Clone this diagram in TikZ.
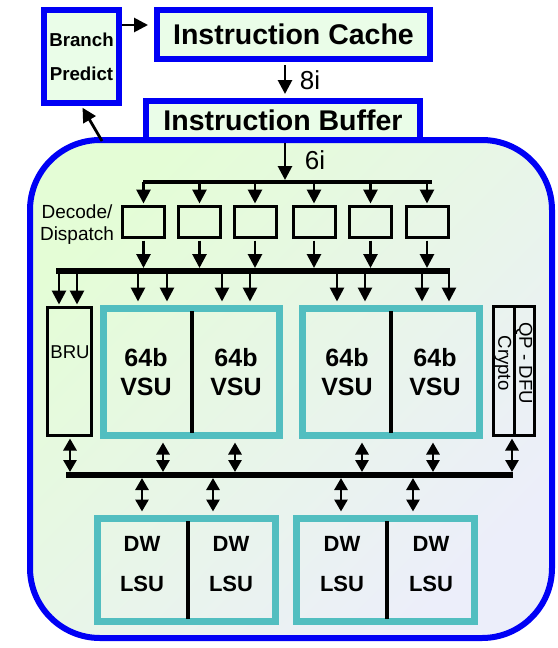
\documentclass[tikz,border=0pt]{standalone}
\usepackage{fontspec}
\setmainfont{Liberation Sans}
\usetikzlibrary{arrows.meta,calc}
\definecolor{bblue}{RGB}{0,0,245}
\definecolor{tealb}{RGB}{82,190,192}
\definecolor{palebox}{RGB}{234,253,232}
\definecolor{gA}{RGB}{228,253,214}
\definecolor{gB}{RGB}{190,250,222}
\definecolor{gC}{RGB}{236,238,250}
\tikzset{
  bluebox/.style={draw=bblue, line width=6pt, fill=palebox, inner sep=0pt},
  unitbox/.style={draw=tealb, line width=7pt, inner sep=0pt},
  blackbox/.style={draw=black, line width=3pt, inner sep=0pt},
  arr/.style={-{Triangle[length=14pt,width=14pt]}, line width=2.8pt},
  darr/.style={{Triangle[length=12pt,width=13pt]}-{Triangle[length=12pt,width=13pt]}, line width=2.8pt},
  bus/.style={line width=6pt},
  divider/.style={line width=3.5pt},
  bigtxt/.style={font=\bfseries\fontsize{28.5}{32}\selectfont},
  vsutxt/.style={font=\bfseries\fontsize{25}{29}\selectfont, align=center, inner sep=0pt},
  lsutxt/.style={font=\bfseries\fontsize{22}{40}\selectfont, align=center, inner sep=0pt},
  smalltxt/.style={font=\fontsize{18.6}{22}\selectfont, inner sep=0pt},
}
\begin{document}
\begin{tikzpicture}[x=1pt,y=-1pt]
\useasboundingbox (0,0) rectangle (557,648);
\fill[white] (0,0) rectangle (557,648);

% big rounded container
\path[draw=bblue, line width=6pt, rounded corners=70pt, top color=gA, middle color=gB, bottom color=gC, shading angle=45]
  (30,140) rectangle (552,638);

% top boxes
\node[bluebox, minimum width=75pt, minimum height=93pt] (bp) at (81.5,56.5) {};
\node[font=\bfseries\fontsize{18.7}{34}\selectfont, align=center, inner sep=0pt] (bpt) at (81.5,57) {Branch\\Predict};
\node[bluebox, minimum width=273pt, minimum height=49pt, bigtxt] (ic) at (293.5,34.5) {Instruction Cache};
\node[bluebox, minimum width=274pt, minimum height=39pt, bigtxt] (ib) at (283,120.5) {Instruction Buffer};

\draw[arr, shorten >=6pt] (bp.east |- 0,25) -- (ic.west |- 0,25);
\draw[arr, shorten <=3pt, shorten >=4pt] (285,0 |- ic.south) -- (285,0 |- ib.north);
\node[font=\fontsize{26}{28}\selectfont, inner sep=0pt] (l8) at (310,80) {8i};
\coordinate (bpf) at (102,141);
\draw[arr, shorten >=2pt] (bpf) -- (bp.south);

% bus 1 and decode boxes
\coordinate (b1L) at (143,182);
\coordinate (b1R) at (432,182);
\draw[line width=4pt] (b1L) -- (b1R);
\draw[arr, shorten >=2pt] (285,0 |- ib.south) -- (285,0 |- b1L);
\node[font=\fontsize{26}{28}\selectfont, inner sep=0pt] (l6) at (315,160) {6i};

\foreach \i/\x in {1/143.5,2/199.5,3/255,4/314,5/370.5,6/427}{
  \node[blackbox, minimum width=42pt, minimum height=31pt] (d\i) at (\x,222) {};
}
\node[font=\fontsize{19}{22}\selectfont, align=center, inner sep=0pt] (dd) at (77,225) {Decode/\\Dispatch};

\coordinate (b2L) at (56,271);
\coordinate (b2R) at (450,271);
\draw[bus] (b2L) -- (b2R);
\foreach \i in {1,...,6}{
  \draw[arr, shorten >=1.5pt] (d\i.north |- b1L) -- (d\i.north);
  \draw[arr, shorten <=1.5pt, shorten >=3pt] (d\i.south) -- (d\i.south |- b2L);
}

% execution units
\node[blackbox, minimum width=44pt, minimum height=128pt] (bru) at (69.5,371.5) {};
\node[smalltxt] (brut) at (70,352) {BRU};

\node[unitbox, minimum width=176pt, minimum height=127pt] (vsu1) at (191.5,372) {};
\draw[divider] (192,311) -- (192,433);
\node[vsutxt] (v1a) at (146,372) {64b\\VSU};
\node[vsutxt] (v1b) at (236,372) {64b\\VSU};

\node[unitbox, minimum width=177pt, minimum height=127pt] (vsu2) at (391,372) {};
\draw[divider] (391,311) -- (391,433);
\node[vsutxt] (v2a) at (347,372) {64b\\VSU};
\node[vsutxt] (v2b) at (435,372) {64b\\VSU};

\node[blackbox, minimum width=41pt, minimum height=129pt] (qp) at (514,371) {};
\draw[line width=3pt] (qp.north) -- (qp.south);
\node[smalltxt, rotate=-90] (crt) at (503,363) {Crypto};
\node[smalltxt, rotate=-90] (qpt) at (524,363) {QP - DFU};

\foreach \x in {59,77}{
  \draw[arr, shorten >=1.5pt] (\x,0 |- b2L) -- (\x,0 |- bru.north);
}
\foreach \x in {138,167,222,250}{
  \draw[arr, shorten >=3.5pt] (\x,0 |- b2L) -- (\x,0 |- vsu1.north);
}
\foreach \x in {337,365,422,449}{
  \draw[arr, shorten >=3.5pt] (\x,0 |- b2L) -- (\x,0 |- vsu2.north);
}

% bus 3
\coordinate (b3L) at (66,475);
\coordinate (b3R) at (513,475);
\draw[bus] (b3L) -- (b3R);
\draw[darr, shorten <=1.5pt, shorten >=3pt] (70,0 |- bru.south) -- (70,0 |- b3L);
\foreach \x in {163,235}{
  \draw[darr, shorten <=3.5pt, shorten >=3pt] (\x,0 |- vsu1.south) -- (\x,0 |- b3L);
}
\foreach \x in {362,433}{
  \draw[darr, shorten <=3.5pt, shorten >=3pt] (\x,0 |- vsu2.south) -- (\x,0 |- b3L);
}
\draw[darr, shorten <=1.5pt, shorten >=3pt] (512,0 |- qp.south) -- (512,0 |- b3L);

% load/store units
\node[unitbox, minimum width=178pt, minimum height=103pt] (lsu1) at (186.5,570) {};
\draw[divider] (188,521) -- (188,619);
\node[lsutxt] (l1a) at (142,564) {DW\\LSU};
\node[lsutxt] (l1b) at (231,564) {DW\\LSU};

\node[unitbox, minimum width=178pt, minimum height=103pt] (lsu2) at (385.5,570) {};
\draw[divider] (387,521) -- (387,619);
\node[lsutxt] (l2a) at (342,564) {DW\\LSU};
\node[lsutxt] (l2b) at (431,564) {DW\\LSU};

\foreach \x in {142,213}{
  \draw[darr, shorten <=3pt, shorten >=3.5pt] (\x,0 |- b3L) -- (\x,0 |- lsu1.north);
}
\foreach \x in {341,413}{
  \draw[darr, shorten <=3pt, shorten >=3.5pt] (\x,0 |- b3L) -- (\x,0 |- lsu2.north);
}
\end{tikzpicture}
\end{document}
